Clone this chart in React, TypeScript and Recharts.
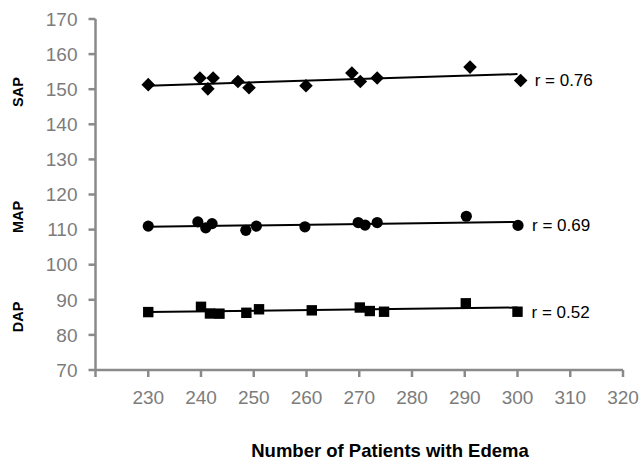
import { ScatterChart, Scatter, XAxis, YAxis, LabelList } from "recharts";

const xTicks = [220, 230, 240, 250, 260, 270, 280, 290, 300, 310, 320];
const yTicks = [70, 80, 90, 100, 110, 120, 130, 140, 150, 160, 170];

// number of patients with edema vs pressure, one entry per point
const sapX = [230, 239.8, 241.3, 242.3, 247, 249.1, 259.9, 268.6, 270.2, 273.4, 291, 300.6];
const sapY = [151.3, 153.2, 150.1, 153.2, 152.2, 150.4, 151, 154.6, 152.2, 153.2, 156.3, 152.5];
const mapX = [230, 239.4, 240.9, 242.1, 248.5, 250.5, 259.7, 269.8, 271.1, 273.4, 290.3, 300.1];
const mapY = [111, 112.2, 110.5, 111.7, 109.8, 111, 110.8, 112, 111.3, 112, 113.8, 111.2];
const dapX = [230, 240, 241.7, 243.5, 248.6, 251, 261, 270.1, 272, 274.7, 290.2, 300];
const dapY = [86.5, 88, 86.1, 86.05, 86.3, 87.3, 87, 87.8, 86.8, 86.6, 89, 86.6];

// fitted line end points
const trendX = [230, 300];
const sapTrendY = [151, 154.3];
const mapTrendY = [110.8, 112.2];
const dapTrendY = [86.5, 87.8];

const rLabels = ["r = 0.76", "r = 0.69", "r = 0.52"];
const panelNames = ["SAP", "MAP", "DAP"];

const zip = (xs: number[], ys: number[]) => xs.map((x, i) => ({ x, y: ys[i] }));

const FONT = "'Liberation Sans', Arial, Helvetica, sans-serif";
const AXIS = "#8a8a8a";
const TICK = "#7c7c7c";

const Diamond = (p: any) => {
  const { cx, cy } = p;
  const r = 6.8;
  return <polygon points={`${cx},${cy - r} ${cx + r},${cy} ${cx},${cy + r} ${cx - r},${cy}`} fill="#000" />;
};
const Dot = (p: any) => <circle cx={p.cx} cy={p.cy} r={5.6} fill="#000" />;
const Square = (p: any) => <rect x={p.cx - 5.2} y={p.cy - 5.2} width={10.4} height={10.4} fill="#000" />;
const NoShape = () => <g />;

const rLabel = (text: string, count: number) => (props: any) => {
  const { x, y, width, height, index } = props;
  if (index !== count - 1) return null;
  return (
    <text x={x + width / 2 + 14} y={y + height / 2} dy={6} fontSize={17} fontFamily={FONT} fill="#000">
      {text}
    </text>
  );
};

export default function App() {
  const series = [
    { pts: zip(sapX, sapY), trend: zip(trendX, sapTrendY), shape: Diamond },
    { pts: zip(mapX, mapY), trend: zip(trendX, mapTrendY), shape: Dot },
    { pts: zip(dapX, dapY), trend: zip(trendX, dapTrendY), shape: Square },
  ];
  const namePos = [92, 217, 317];
  return (
    <div style={{ position: "absolute", left: 0, top: 0, width: 642, height: 461, background: "#fff" }}>
      <ScatterChart width={642} height={461} margin={{ top: 19, right: 19, bottom: 0, left: 39 }}>
        <XAxis
          type="number"
          dataKey="x"
          domain={[220, 320]}
          ticks={xTicks}
          tickFormatter={(v: number) => (v === 220 ? "" : String(v))}
          interval={0}
          height={91}
          stroke={AXIS}
          strokeWidth={2.5}
          tickSize={7}
          tickMargin={14}
          tick={{ fill: TICK, fontSize: 19, fontFamily: FONT }}
        />
        <YAxis
          type="number"
          dataKey="y"
          domain={[70, 170]}
          ticks={yTicks}
          interval={0}
          width={56.5}
          stroke={AXIS}
          strokeWidth={2.5}
          tickSize={7}
          tickMargin={11}
          tick={{ fill: TICK, fontSize: 19, fontFamily: FONT }}
        />
        {series.map((s, i) => (
          <Scatter key={"t" + i} data={s.trend} line={{ stroke: "#000", strokeWidth: 2 }} shape={NoShape} isAnimationActive={false} />
        ))}
        {series.map((s, i) => (
          <Scatter key={"p" + i} data={s.pts} shape={s.shape} fill="#000" isAnimationActive={false}>
            <LabelList dataKey="y" content={rLabel(rLabels[i], s.pts.length)} />
          </Scatter>
        ))}
      </ScatterChart>
      <svg width={642} height={461} style={{ position: "absolute", left: 0, top: 0, pointerEvents: "none" }}>
        {panelNames.map((n, i) => (
          <text
            key={n}
            x={0}
            y={0}
            transform={`translate(23 ${namePos[i]}) rotate(-90)`}
            textAnchor="middle"
            fontSize={14.5}
            fontWeight={700}
            fontFamily={FONT}
            fill="#000"
          >
            {n}
          </text>
        ))}
        <text x={390} y={457} textAnchor="middle" fontSize={18.5} fontWeight={700} fontFamily={FONT} fill="#000">
          Number of Patients with Edema
        </text>
      </svg>
    </div>
  );
}
